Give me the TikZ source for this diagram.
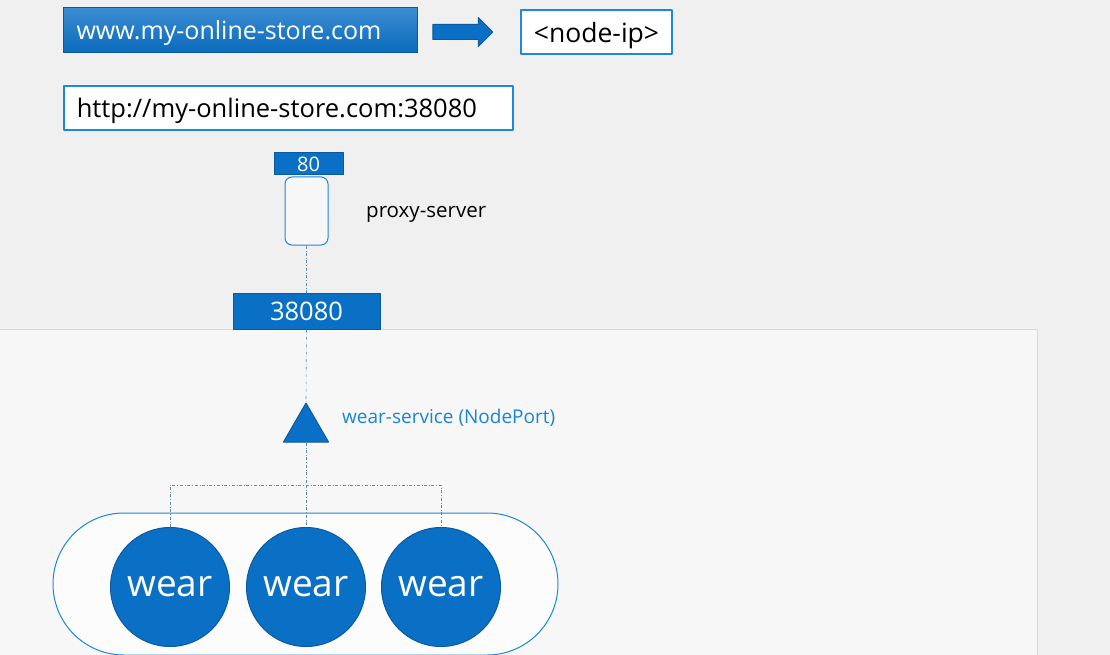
\documentclass[tikz,border=0pt]{standalone}
\usepackage{fontspec}
\setmainfont{Open Sans}
\usetikzlibrary{shapes.geometric,shapes.arrows}
\definecolor{kblue}{HTML}{0A70C6}
\definecolor{kdark}{HTML}{0B5A9E}
\definecolor{klight}{HTML}{1E88DE}
\definecolor{klabel}{HTML}{1A84D6}
\definecolor{klink}{HTML}{5E8DB2}
\definecolor{kback}{HTML}{F0F0F0}
\definecolor{kpanel}{HTML}{F7F7F7}
\tikzset{
	bluebox/.style={draw=kdark, fill=kblue, text=white, inner sep=0pt, line width=1pt, text depth=0pt},
	whitebox/.style={draw=klight, fill=white, text=black, inner sep=0pt, line width=1.5pt, text depth=0pt},
	link/.style={draw=klink, dash dot, line width=0.6pt},
	pod/.style={circle, draw=kdark, fill=kblue, text=white, minimum size=119pt, inner sep=0pt, line width=1pt, font=\fontsize{37}{40}\selectfont},
}
\begin{document}
\begin{tikzpicture}[x=1pt, y=-1pt, line join=round, >=stealth]
	\useasboundingbox (0,0) rectangle (1110,655);
	\fill[kback] (0,0) rectangle (1110,655);
	\filldraw[fill=kpanel, draw=black!15, line width=1pt] (-5,329) rectangle (1037,665);
	% address line
	\node[bluebox, anchor=west, top color=kblue!80!white, bottom color=kblue!95!black, minimum height=45pt, text width=328pt, inner xsep=13pt, align=left, font=\fontsize{25}{30}\selectfont] (url) at (63,30.5) {www.my-online-store.com};
	\node[whitebox, minimum width=151pt, minimum height=44pt, font=\fontsize{26.5}{30}\selectfont] (nodeip) at (596.5,32) {<node-ip>};
	\node[single arrow, draw=kdark, fill=kblue, line width=1pt, minimum height=60pt, inner xsep=0pt, inner ysep=7pt, single arrow head extend=7pt] (arr) at (459,32) {};
	\node[whitebox, anchor=west, minimum height=44pt, text width=423pt, inner xsep=13pt, align=left, font=\fontsize{25.5}{30}\selectfont] (http) at (63,108) {http://my-online-store.com:38080};
	% proxy
	\node[bluebox, minimum width=69pt, minimum height=22pt, font=\fontsize{20}{22}\selectfont] (p80) at (308.5,164) {80};
	\node[draw=klight, fill=kpanel, rounded corners=7pt, line width=1pt, minimum width=43pt, minimum height=68pt] (proxy) at (306.5,211) {};
	\node[anchor=west, inner sep=0pt, font=\fontsize{20.5}{24}\selectfont] (proxylbl) at (366,214) {proxy-server};
	\node[bluebox, minimum width=147pt, minimum height=36pt, font=\fontsize{25.5}{28}\selectfont] (p38080) at (306.5,311) {38080};
	% service and pods
	\node[regular polygon, regular polygon sides=3, draw=kdark, fill=kblue, line width=1pt, minimum size=52pt, inner sep=0pt] (svc) at (306,429) {};
	\node[anchor=west, inner sep=0pt, text=klabel, font=\fontsize{19}{22}\selectfont] (svclbl) at (342,418) {wear-service (NodePort)};
	\node[draw=klight, fill=white!60!kpanel, rounded corners=71pt, line width=1pt, minimum width=505pt, minimum height=142pt] (deploy) at (305.5,584) {};
	\node[pod] (pod1) at (170,587) {wear};
	\node[pod] (pod2) at (306,587) {wear};
	\node[pod] (pod3) at (441,587) {wear};
	\coordinate (bus) at (306,485);
	\draw[link] (proxy.south) -- (p38080.north);
	\draw[link] (p38080.south) -- (svc.corner 1);
	\draw[link] (svc.south) -- (bus);
	\draw[link] (pod1.north) |- (bus) -| (pod3.north);
	\draw[link] (bus) -- (pod2.north);
\end{tikzpicture}
\end{document}
